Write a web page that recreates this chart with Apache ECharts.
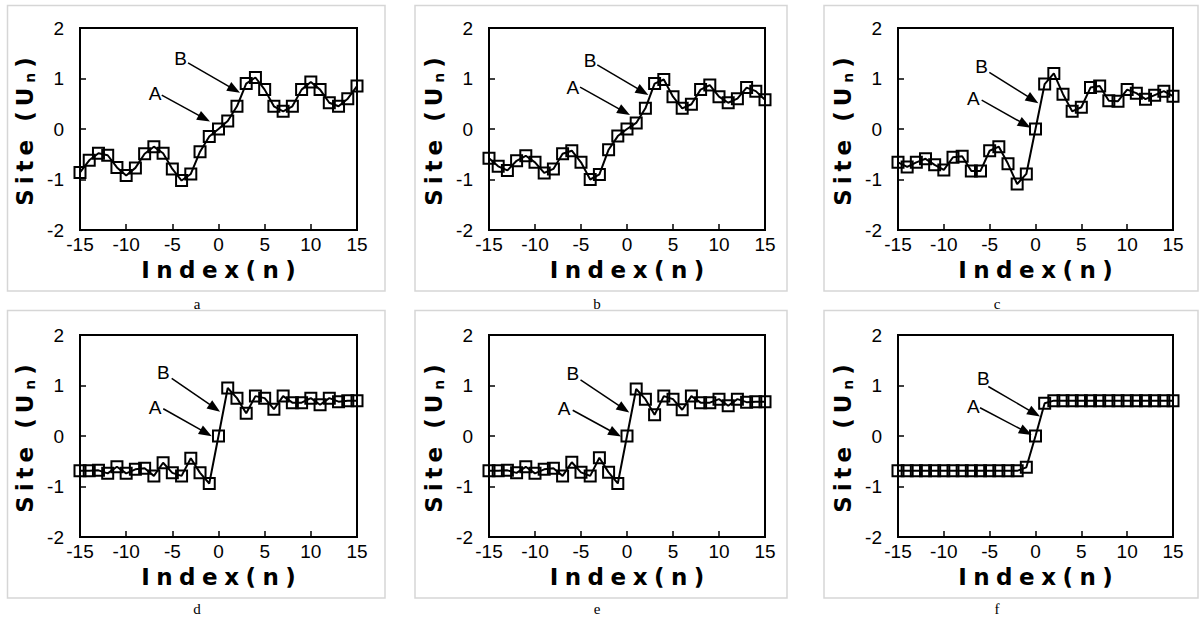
<!DOCTYPE html>
<html>
<head>
<meta charset="utf-8">
<script src="https://cdn.jsdelivr.net/npm/echarts@6/dist/echarts.min.js"></script>
<style>
html,body{margin:0;padding:0;background:#fff;}
#chart{width:1202px;height:619px;}
</style>
</head>
<body>
<div id="chart"></div>
<script>
// ---------- data ----------
const indexN = [-15,-14,-13,-12,-11,-10,-9,-8,-7,-6,-5,-4,-3,-2,-1,0,1,2,3,4,5,6,7,8,9,10,11,12,13,14,15];

const siteA = [-0.86,-0.62,-0.48,-0.52,-0.76,-0.92,-0.77,-0.49,-0.35,-0.48,-0.79,-1.02,-0.89,-0.45,-0.15,0,0.16,0.45,0.90,1.02,0.78,0.45,0.35,0.45,0.78,0.93,0.78,0.52,0.45,0.60,0.85];
const siteB = [-0.58,-0.74,-0.82,-0.63,-0.53,-0.66,-0.87,-0.79,-0.49,-0.43,-0.66,-1.00,-0.90,-0.41,-0.14,0,0.12,0.41,0.90,0.98,0.64,0.41,0.49,0.78,0.87,0.64,0.52,0.60,0.82,0.75,0.58];
const siteC = [-0.66,-0.75,-0.66,-0.59,-0.71,-0.81,-0.56,-0.54,-0.83,-0.83,-0.43,-0.35,-0.69,-1.09,-0.89,0,0.89,1.10,0.69,0.35,0.43,0.82,0.85,0.56,0.55,0.78,0.71,0.59,0.67,0.75,0.65];
const siteD = [-0.69,-0.69,-0.68,-0.74,-0.61,-0.74,-0.66,-0.64,-0.79,-0.53,-0.73,-0.79,-0.44,-0.73,-0.94,0,0.95,0.75,0.45,0.79,0.75,0.53,0.79,0.66,0.66,0.75,0.62,0.75,0.68,0.70,0.70];
const siteE = [-0.69,-0.69,-0.68,-0.73,-0.61,-0.74,-0.66,-0.64,-0.79,-0.52,-0.72,-0.79,-0.43,-0.72,-0.94,0,0.93,0.73,0.42,0.79,0.73,0.52,0.79,0.66,0.66,0.73,0.60,0.73,0.67,0.68,0.68];
const siteF = [-0.69,-0.69,-0.69,-0.69,-0.69,-0.69,-0.69,-0.69,-0.69,-0.69,-0.69,-0.69,-0.69,-0.69,-0.62,0,0.65,0.70,0.70,0.70,0.70,0.70,0.70,0.70,0.70,0.70,0.70,0.70,0.70,0.70,0.70];

const panelNames = ['a','b','c','d','e','f'];
const panelSeries = [siteA, siteB, siteC, siteD, siteE, siteF];

const xMin = -15, xMax = 15, xStep = 5;
const yMin = -2, yMax = 2, yStep = 1;

const xTitle = 'Index(n)';
const yTitleMain = 'Site (U';
const yTitleSub = 'n';
const yTitleEnd = ')';
const yTitle = yTitleMain + yTitleSub + yTitleEnd;

// annotation anchors (data coordinates): label "B", arrow B (start, end), label "A", arrow A (start, end)
const annotations = [
  {B:[-4.10,1.39], Bs:[-3.30,1.31], Be:[1.72,0.78],  A:[-6.88,0.71], As:[-6.15,0.67], Ae:[-1.54,0.21]},
  {B:[-4.02,1.35], Bs:[-3.23,1.27], Be:[1.71,0.74],  A:[-5.90,0.83], As:[-5.10,0.83], Ae:[-0.29,0.34]},
  {B:[-5.87,1.23], Bs:[-5.04,1.12], Be:[-0.29,0.58], A:[-6.78,0.61], As:[-5.87,0.57], Ae:[-1.15,0.09]},
  {B:[-5.98,1.25], Bs:[-5.07,1.14], Be:[-0.41,0.555],A:[-6.88,0.56], As:[-5.98,0.54], Ae:[-1.34,0.06]},
  {B:[-5.90,1.23], Bs:[-5.05,1.11], Be:[-0.34,0.535],A:[-6.83,0.54], As:[-5.90,0.51], Ae:[-1.27,0.05]},
  {B:[-5.69,1.14], Bs:[-5.15,0.98], Be:[-0.12,0.45], A:[-6.78,0.59], As:[-6.05,0.56], Ae:[-1.04,0.08]}
];

// ---------- layout ----------
const colLeft = [80, 489, 898];
const colWidth = [277, 276, 275];
const rowTop = [28, 335];
const plotH = 202;
const frameX = [[7.5, 385], [415, 787], [824, 1198]];
const frameY = [[5.5, 291], [310.5, 598]];
const captionX = [197, 597, 997];
const captionY = [304, 609];

const X_LS = 6.5;   // letter spacing for x title
const Y_LS = 5;     // letter spacing for y title

const titleFont = 'DejaVu Sans';
const tickFont = 'Liberation Sans';

const grids = [], xAxes = [], yAxes = [], series = [], graphics = [];

panelNames.forEach((name, i) => {
  const r = Math.floor(i / 3), c = i % 3;
  grids.push({
    left: colLeft[c], top: rowTop[r], width: colWidth[c], height: plotH,
    show: true, borderColor: '#000', borderWidth: 2, backgroundColor: 'transparent'
  });
  xAxes.push({
    gridIndex: i, type: 'value', min: xMin, max: xMax, interval: xStep,
    axisLine: {show: true, onZero: false, lineStyle: {color: '#000', width: 2}},
    axisTick: {show: true, inside: true, length: 6, lineStyle: {color: '#000', width: 1.5}},
    axisLabel: {color: '#000', fontSize: 19, fontFamily: tickFont, margin: 5},
    splitLine: {show: false},
    name: xTitle, nameLocation: 'middle', nameGap: 28,
    nameTextStyle: {color: '#000', fontFamily: titleFont, fontWeight: 'bold', fontSize: 23, padding: [0, 0, 0, X_LS]}
  });
  yAxes.push({
    gridIndex: i, type: 'value', min: yMin, max: yMax, interval: yStep,
    axisLine: {show: true, onZero: false, lineStyle: {color: '#000', width: 2}},
    axisTick: {show: true, inside: true, length: 6, lineStyle: {color: '#000', width: 1.5}},
    axisLabel: {color: '#000', fontSize: 19, fontFamily: tickFont, margin: 16},
    splitLine: {show: false},
    name: yTitle,
    nameLocation: 'middle', nameGap: 44,
    nameTextStyle: {color: '#000', fontFamily: titleFont, fontWeight: 'bold', fontSize: 23}
  });
  const ann = annotations[i];
  series.push({
    type: 'line', xAxisIndex: i, yAxisIndex: i,
    data: indexN.map((n, k) => [n, panelSeries[i][k]]),
    symbol: 'rect', symbolSize: 11, showAllSymbol: true, clip: false,
    lineStyle: {color: '#000', width: 2},
    itemStyle: {color: 'rgba(0,0,0,0)', borderColor: '#000', borderWidth: 2},
    emphasis: {disabled: true},
    markLine: {
      silent: true, animation: false,
      symbol: ['none', 'triangle'], symbolSize: [10, 13],
      lineStyle: {color: '#000', width: 1.5, type: 'solid'},
      label: {show: false},
      emphasis: {disabled: true},
      data: [
        [{coord: ann.Bs}, {coord: ann.Be}],
        [{coord: ann.As}, {coord: ann.Ae}]
      ]
    },
    markPoint: {
      silent: true, animation: false,
      symbol: 'rect', symbolSize: 1,
      itemStyle: {color: 'rgba(0,0,0,0)'},
      label: {show: true, position: 'inside', formatter: '{b}', color: '#000', fontSize: 19, fontFamily: tickFont},
      emphasis: {disabled: true},
      data: [
        {name: 'B', coord: ann.B},
        {name: 'A', coord: ann.A}
      ]
    }
  });
  graphics.push({
    type: 'rect', silent: true, z: -10,
    shape: {x: frameX[c][0], y: frameY[r][0], width: frameX[c][1] - frameX[c][0], height: frameY[r][1] - frameY[r][0]},
    style: {fill: 'none', stroke: '#d6d6d6', lineWidth: 1.5}
  });
  graphics.push({
    type: 'text', silent: true, x: captionX[c], y: captionY[r],
    style: {text: name, fill: '#000', font: '15px "Liberation Serif"', textAlign: 'center', textVerticalAlign: 'middle'}
  });
});

const option = {
  animation: false,
  backgroundColor: '#fff',
  grid: grids, xAxis: xAxes, yAxis: yAxes, series: series,
  graphic: graphics
};

const chart = echarts.init(document.getElementById('chart'), null, {renderer: 'svg', width: 1202, height: 619});
chart.setOption(option);

const SVGNS = 'http://www.w3.org/2000/svg';
function norm(s) { return (s || '').replace(/[\s\u00a0]+/g, ' ').trim(); }
function applySpacing() {
  document.querySelectorAll('#chart svg text').forEach(t => {
    const s = norm(t.textContent);
    if (s === norm(xTitle)) {
      t.setAttribute('letter-spacing', X_LS);
    } else if (s === norm(yTitle) && !t.getAttribute('data-sub')) {
      // subscript "n" in "Site (Un)"
      while (t.firstChild) t.removeChild(t.firstChild);
      const main = document.createElementNS(SVGNS, 'tspan');
      main.textContent = yTitleMain;
      const sub = document.createElementNS(SVGNS, 'tspan');
      sub.setAttribute('dy', '5');
      sub.style.fontSize = '14px';
      sub.textContent = yTitleSub;
      const end = document.createElementNS(SVGNS, 'tspan');
      end.setAttribute('dy', '-5');
      end.textContent = yTitleEnd;
      t.appendChild(main); t.appendChild(sub); t.appendChild(end);
      t.setAttribute('letter-spacing', Y_LS);
      t.setAttribute('data-sub', '1');
    }
  });
}
applySpacing();
chart.on('finished', applySpacing);
chart.on('rendered', applySpacing);
</script>
</body>
</html>
